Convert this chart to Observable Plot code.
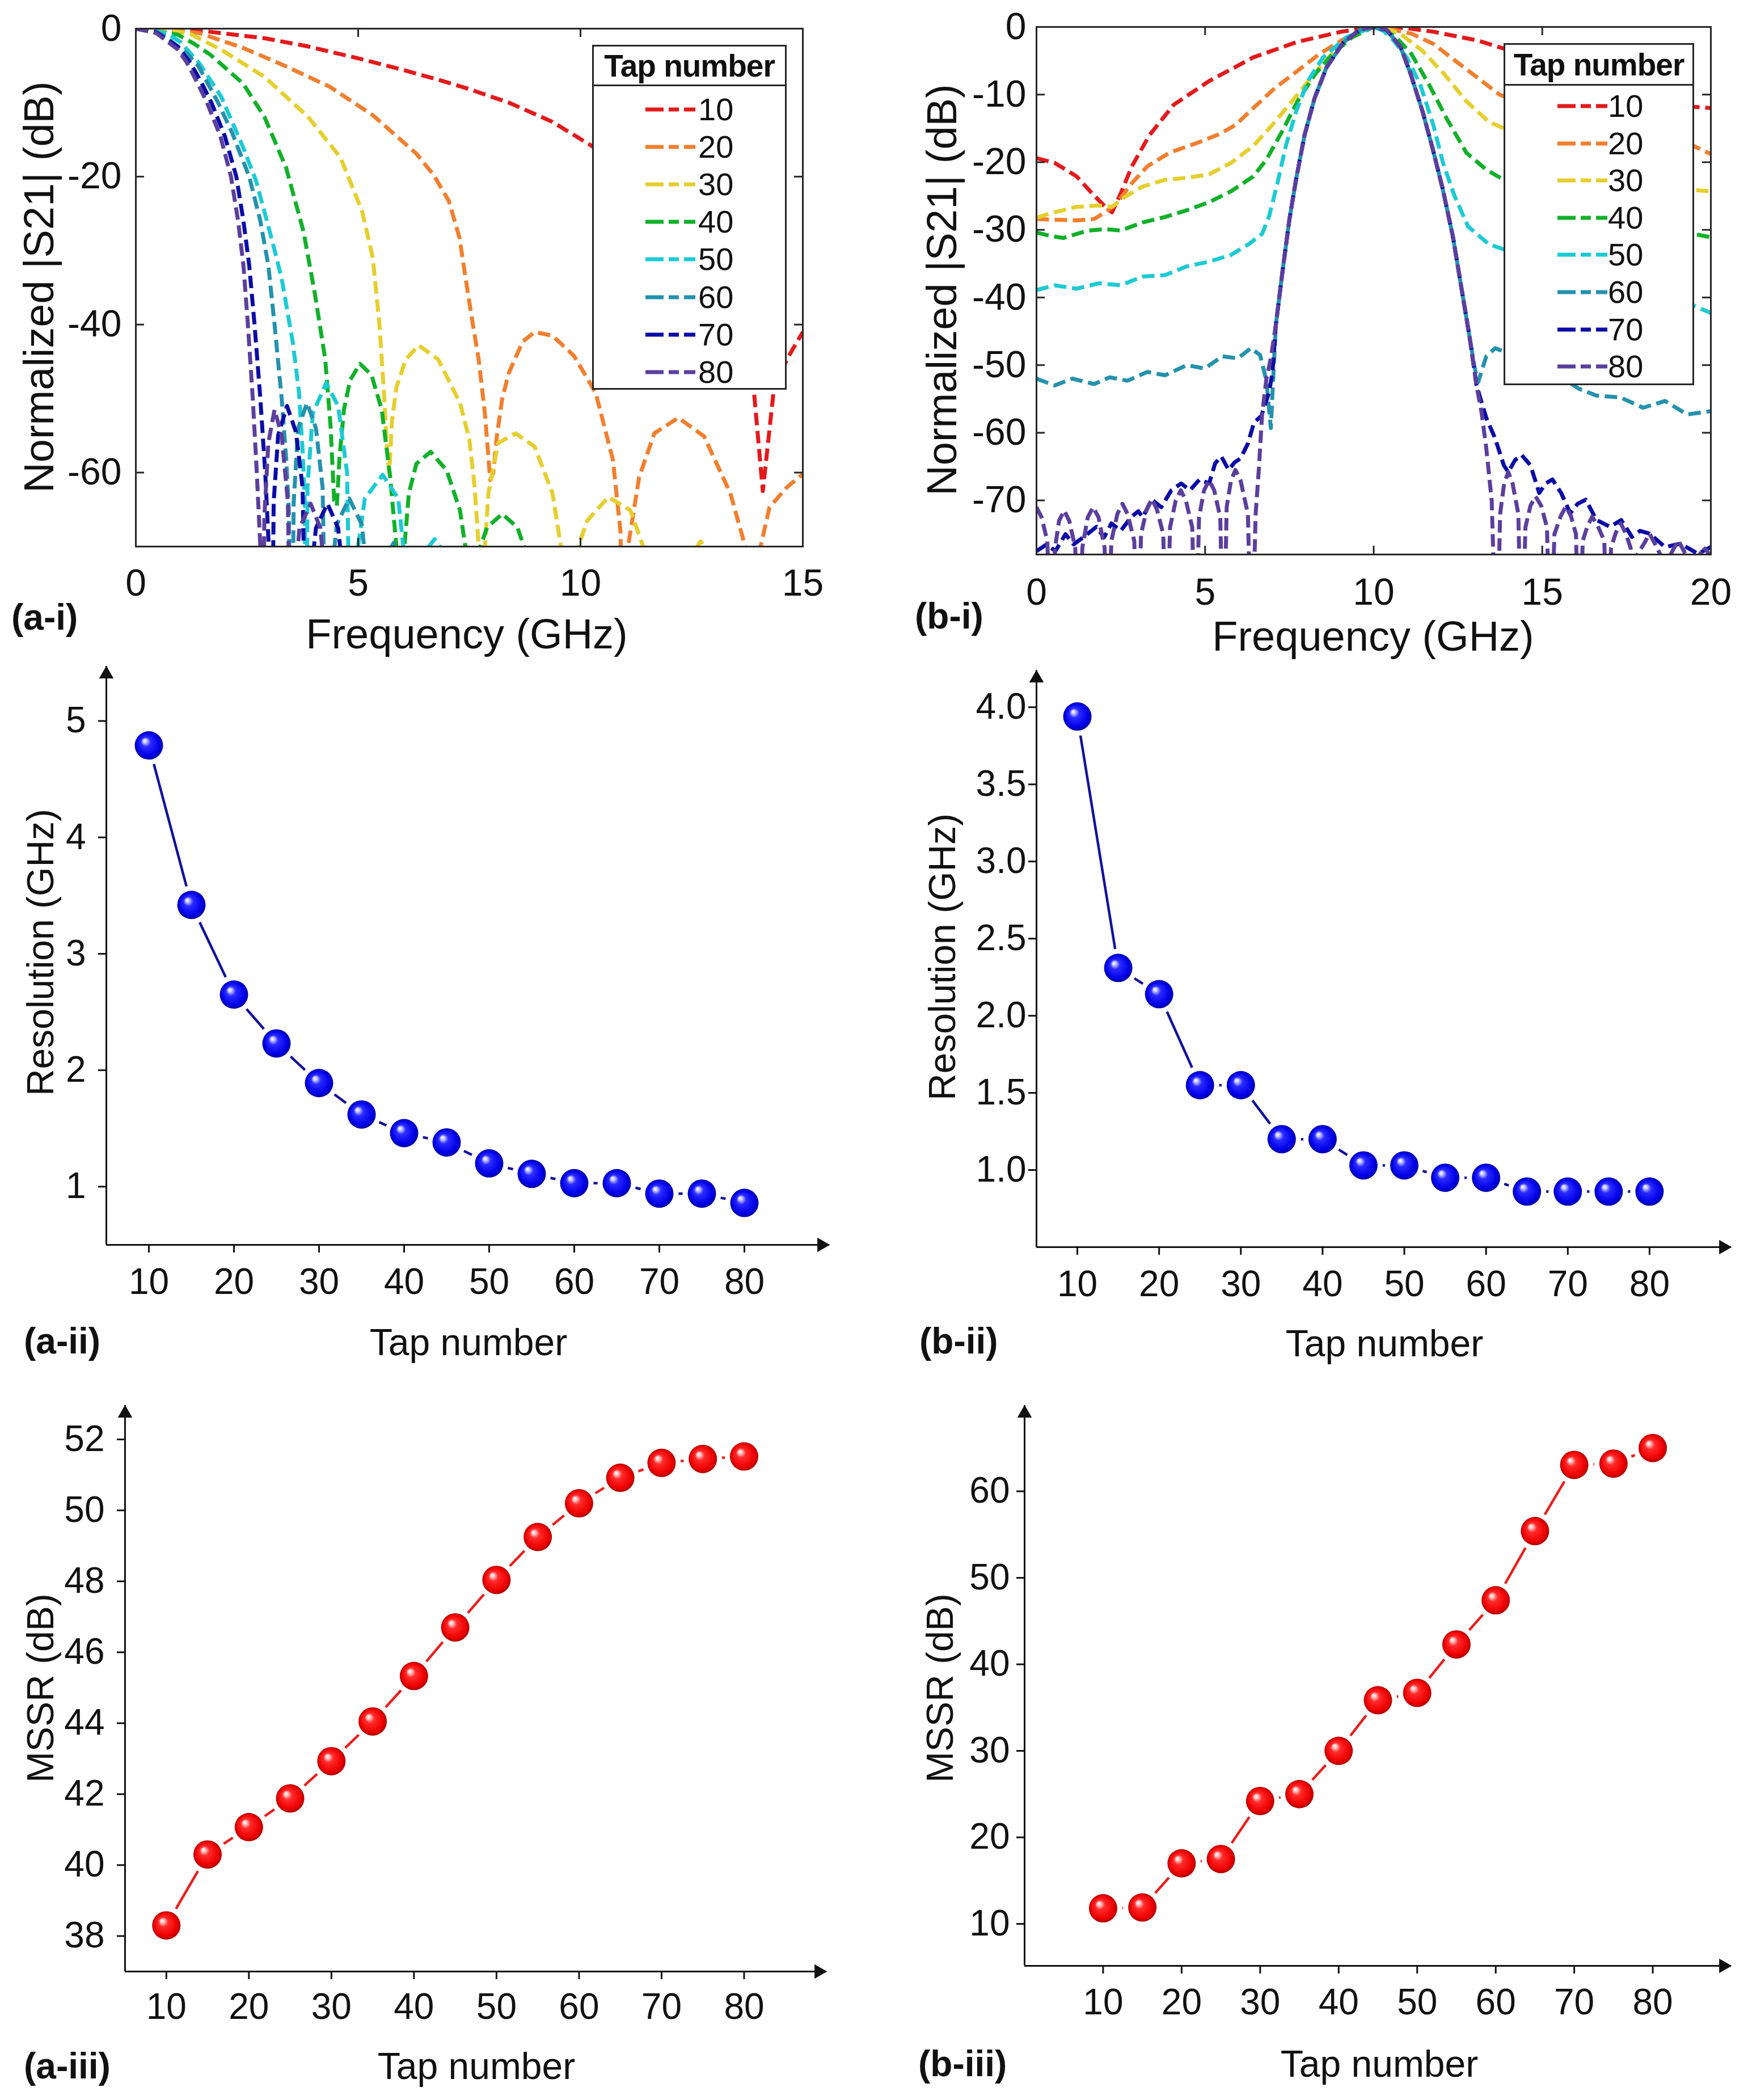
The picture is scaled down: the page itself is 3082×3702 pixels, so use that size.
<!DOCTYPE html>
<html><head><meta charset="utf-8">
<script src="https://cdn.jsdelivr.net/npm/d3@7"></script>
<script src="https://cdn.jsdelivr.net/npm/@observablehq/plot@0.6"></script>
<style>
body{margin:0;background:#fff;}
#page{position:relative;width:3082px;height:3702px;background:#fff;overflow:hidden;font-family:"Liberation Sans",Arial,Helvetica,sans-serif;color:#111;}
.ttl{position:absolute;white-space:nowrap;transform:translate(-50%,-50%);line-height:1;}
.vttl{position:absolute;white-space:nowrap;transform:translate(-50%,-50%) rotate(-90deg);line-height:1;}
.tag{position:absolute;white-space:nowrap;font-weight:bold;transform:translateY(-50%);line-height:1;}
.legend{position:absolute;background:#fff;border:3px solid #262626;box-sizing:border-box;}
.legtitle{position:absolute;left:0;top:0;width:100%;box-sizing:border-box;border-bottom:3px solid #262626;font-weight:bold;font-size:55px;display:flex;align-items:center;justify-content:center;letter-spacing:-1px;}
.leglab{position:absolute;font-size:56px;line-height:1;transform:translateY(-50%);}
</style></head>
<body>
<svg width="0" height="0" style="position:absolute">
<defs>
<radialGradient id="ballBlue" cx="0.5" cy="0.5" r="0.5" fx="0.34" fy="0.32">
<stop offset="0" stop-color="#ffffff"/><stop offset="0.13" stop-color="#c9c9ff"/><stop offset="0.34" stop-color="#2b2bff"/><stop offset="0.8" stop-color="#0000e8"/><stop offset="1" stop-color="#0000a6"/>
</radialGradient>
<radialGradient id="ballRed" cx="0.5" cy="0.5" r="0.5" fx="0.34" fy="0.32">
<stop offset="0" stop-color="#ffffff"/><stop offset="0.13" stop-color="#ffc9c9"/><stop offset="0.34" stop-color="#ff2b2b"/><stop offset="0.8" stop-color="#ee0000"/><stop offset="1" stop-color="#b00000"/>
</radialGradient>
</defs>
</svg>
<div id="page"></div>
<script>
// ---------- categories / colors ----------
const taps = [10, 20, 30, 40, 50, 60, 70, 80];
const tapColors = ["#e31a1c", "#f07f2f", "#e5cf2f", "#12b02a", "#1dcad3", "#2591ad", "#0b0ba6", "#5b3f9d"];

// ---------- (a-i) curves: [frequency GHz, normalized |S21| dB] ----------
const ai_tap10 = [[0,0],[1.5,-0.3],[2.9,-1.3],[3.87,-2.4],[4.99,-4.0],[5.9,-5.4],[6.8,-6.9],[7.41,-8.0],[8.39,-10.0],[9.37,-12.6],[10.24,-15.8],[11,-19.5],[12,-25.5],[13,-34],[13.6,-42],[13.9,-49],[14.1,-62.5],[14.34,-49.2],[14.64,-44.7],[15,-41]];
const ai_tap20 = [[0,0],[0.7,-0.15],[1.43,-0.6],[2.41,-2.6],[3.38,-5.1],[4.36,-7.85],[5.33,-11.7],[6.31,-16.9],[6.7,-19.8],[7.04,-23.3],[7.28,-28.3],[7.41,-33.5],[7.58,-40],[7.71,-44.7],[7.85,-52],[7.97,-61],[8.04,-60],[8.12,-55],[8.24,-50],[8.39,-46.5],[8.7,-42.3],[8.97,-41],[9.37,-41.5],[9.85,-44.2],[10.34,-49.2],[10.73,-58.3],[10.9,-68],[10.98,-95],[11.07,-70],[11.32,-60.6],[11.66,-54.7],[12.2,-52.6],[12.78,-55.1],[13.37,-62.8],[13.71,-70.1],[13.85,-95],[14.05,-70],[14.25,-64.7],[14.64,-62],[15,-60.2]];
const ai_tap30 = [[0,0],[0.6,-0.2],[1.19,-0.6],[1.92,-2.85],[2.89,-6.5],[3.87,-11.9],[4.6,-17.4],[5.09,-24.7],[5.33,-31],[5.48,-40.1],[5.58,-49.2],[5.65,-57],[5.7,-60],[5.76,-53],[5.86,-48.5],[6.07,-44.7],[6.36,-42.8],[6.8,-44.7],[7.29,-50.6],[7.5,-55.5],[7.62,-62],[7.71,-70],[7.78,-95],[7.85,-70],[7.93,-62.8],[8.15,-56],[8.54,-54.7],[8.97,-56.5],[9.37,-62.8],[9.56,-70],[9.75,-95],[9.95,-70],[10.15,-66.5],[10.63,-63.3],[11.12,-65.1],[11.41,-70],[11.6,-95],[12.4,-72],[12.7,-69.3],[13.0,-72],[13.3,-95]];
const ai_tap40 = [[0,0],[0.94,-0.8],[1.3,-2],[1.67,-3.5],[2.05,-5.5],[2.41,-7.4],[2.89,-11.9],[3.38,-18.8],[3.77,-27.4],[4.02,-35.6],[4.26,-44.7],[4.38,-53.8],[4.46,-63.8],[4.52,-64.5],[4.58,-58],[4.68,-51.5],[4.82,-47.5],[5.04,-45.3],[5.3,-46.8],[5.53,-51.5],[5.72,-60.6],[5.86,-70],[5.95,-95],[6.04,-70],[6.14,-62.8],[6.31,-58.8],[6.63,-57.2],[6.99,-59.7],[7.29,-65.1],[7.41,-70],[7.58,-95],[7.75,-70],[7.9,-67.4],[8.24,-65.6],[8.58,-67.4],[8.73,-70],[8.85,-95]];
const ai_tap50 = [[0,0],[0.7,-0.6],[1.0,-1.8],[1.43,-4.7],[1.92,-9.2],[2.41,-16],[2.7,-20.5],[2.89,-24.7],[3.08,-29],[3.28,-33.8],[3.53,-42.4],[3.67,-49.2],[3.75,-57],[3.8,-64],[3.83,-95],[3.86,-62],[3.98,-52],[4.28,-47.9],[4.55,-51],[4.75,-60],[4.85,-95],[4.95,-72],[5.15,-63.5],[5.55,-60.3],[5.9,-63.5],[6.05,-72],[6.15,-95],[6.4,-71.5],[6.72,-69],[7.0,-71.5],[7.3,-95]];
const ai_tap60 = [[0,0],[0.46,-0.4],[0.7,-1.2],[1.19,-3.6],[1.4,-5],[1.7,-8.3],[1.85,-10],[2.16,-14],[2.55,-20],[2.8,-26],[2.98,-32],[3.12,-40],[3.28,-50],[3.38,-58],[3.44,-65],[3.5,-95],[3.55,-64],[3.65,-54],[3.85,-50.6],[4.05,-54],[4.2,-62],[4.3,-95],[4.38,-75],[4.52,-67],[4.8,-63.5],[5.08,-67],[5.22,-75],[5.3,-95],[5.5,-72.5],[5.8,-69.5],[6.1,-72.5],[6.3,-95]];
const ai_tap70 = [[0,0],[0.46,-0.5],[0.94,-2.4],[1.21,-4.5],[1.45,-7],[1.7,-10],[2.0,-14.5],[2.26,-20],[2.42,-26],[2.55,-32],[2.67,-40],[2.8,-50],[2.91,-60],[2.99,-70],[3.05,-95],[3.1,-64],[3.2,-55],[3.4,-51],[3.6,-54.5],[3.75,-62],[3.85,-95],[3.92,-75],[4.05,-67.5],[4.31,-64.2],[4.55,-67.5],[4.68,-75],[4.75,-95],[4.95,-73],[5.22,-70.3],[5.45,-73],[5.7,-95]];
const ai_tap80 = [[0,0],[0.46,-0.6],[0.94,-2.8],[1.14,-4.5],[1.4,-7.5],[1.6,-10],[1.9,-14.5],[2.14,-20],[2.3,-26],[2.42,-32],[2.52,-40],[2.63,-50],[2.72,-60],[2.8,-70],[2.85,-95],[2.89,-66],[2.98,-56],[3.12,-51.5],[3.28,-55],[3.42,-64],[3.5,-95],[3.56,-76],[3.68,-67.5],[3.93,-64.2],[4.15,-67.5],[4.28,-76],[4.35,-95],[4.5,-73],[4.77,-70.5],[5.0,-73],[5.2,-95]];

// ---------- (b-i) curves ----------
const bi_tap10 = [[0,-19.4],[0.54,-20.1],[1.19,-22.1],[1.65,-24.6],[2.04,-26.6],[2.24,-27.4],[2.5,-24.6],[2.83,-20.6],[3.35,-16],[4.07,-11.5],[5.12,-8],[6.43,-4.5],[7.74,-2.2],[9.04,-0.7],[10,0],[11.0,-0.2],[11.77,-0.7],[13.08,-2],[13.86,-3.2],[15,-5.5],[16.5,-8.5],[18,-10.5],[19.49,-11.8],[20,-12]];
const bi_tap20 = [[0,-28.4],[0.54,-28.5],[1.19,-28.6],[1.71,-28.4],[2.04,-27.4],[2.37,-26.1],[2.83,-23.1],[3.29,-20.6],[3.94,-18.6],[4.79,-17.1],[5.45,-15.8],[5.9,-14.5],[6.43,-12],[7.08,-9],[7.74,-6.5],[8.39,-4],[9.04,-2],[9.6,-0.5],[10,0],[10.5,-0.3],[11.12,-1],[11.77,-2.5],[12.42,-5],[13.08,-7.5],[13.73,-10],[15,-12.5],[16.5,-14.5],[18,-16],[19.49,-17.6],[20,-18.8]];
const bi_tap30 = [[0,-28.2],[0.54,-27.4],[1.19,-26.6],[1.85,-26.4],[2.24,-26.6],[2.63,-25.1],[3.15,-23.6],[3.81,-22.6],[4.46,-22.3],[5.12,-21.8],[5.77,-20.1],[6.43,-17.6],[7.08,-14],[7.74,-10],[8.39,-6],[9.04,-2.5],[9.6,-0.6],[10,0],[10.4,-0.3],[10.79,-1],[11.44,-3.5],[12.1,-7],[12.75,-11],[13.41,-14],[13.86,-15],[15,-18.5],[16.5,-21.5],[18,-23.5],[19.49,-24.1],[20,-24.3]];
const bi_tap40 = [[0,-30.4],[0.41,-30.9],[0.8,-31.2],[1.52,-30.1],[2.04,-29.9],[2.5,-30.1],[3.15,-28.9],[3.81,-28.1],[4.46,-27.1],[5.12,-25.9],[5.77,-24.3],[6.43,-22.1],[6.82,-19.6],[7.28,-15.5],[7.74,-11],[8.26,-7],[8.78,-4],[9.37,-1.5],[10,0],[10.3,-0.4],[10.66,-1.5],[11.12,-4],[11.64,-8.5],[12.16,-13.5],[12.75,-18.6],[13.34,-21.1],[13.86,-22.6],[15,-25],[16.5,-27.5],[18,-29.5],[19.49,-30.6],[20,-31.1]];
const bi_tap50 = [[0,-38.9],[0.54,-38.2],[1.19,-38.7],[1.85,-37.9],[2.5,-38.2],[3.15,-36.9],[3.81,-36.7],[4.46,-35.4],[5.12,-34.7],[5.77,-33.7],[6.3,-32.1],[6.69,-30.6],[6.9,-28],[7.15,-23],[7.4,-17.5],[7.7,-12.5],[8.05,-8],[8.5,-4.5],[9.2,-1.5],[10,0],[10.3,-0.6],[10.59,-2],[10.98,-4.5],[11.38,-8.5],[11.77,-14.5],[12.05,-20],[12.4,-25],[12.8,-29.5],[13.41,-32.1],[13.86,-32.9],[15,-34.5],[16.5,-37],[18,-39.5],[19.49,-41.2],[20,-42.3]];
const bi_tap60 = [[0,-52],[0.54,-53],[1.06,-52],[1.71,-52.8],[2.17,-51.8],[2.7,-52.3],[3.29,-51],[3.81,-51.5],[4.46,-50],[4.99,-50.5],[5.51,-48.7],[5.97,-49],[6.36,-47.5],[6.63,-48.5],[6.82,-52.3],[6.95,-59.3],[7.02,-52],[7.1,-44],[7.3,-36],[7.5,-28.5],[7.7,-22.5],[7.95,-16],[8.25,-10.5],[8.6,-6],[9.1,-2.3],[9.6,-0.4],[10,0],[10.4,-0.5],[10.8,-3],[11.1,-7],[11.45,-12.5],[11.75,-18],[12.05,-24],[12.35,-31],[12.6,-38.5],[12.85,-46],[13.0,-50.5],[13.1,-52.5],[13.34,-48.7],[13.6,-47.5],[13.86,-48],[14.5,-48.5],[15.3,-51],[16.09,-53.5],[16.6,-54.5],[17.33,-54.8],[17.99,-56.3],[18.64,-55.3],[19.3,-57.3],[20,-56.8]];
const bi_tap70 = [[0,-77.5],[0.3,-76.5],[0.56,-77.5],[0.86,-75],[1.1,-76.5],[1.43,-75.3],[1.78,-73.9],[2.0,-75.5],[2.22,-73.4],[2.5,-74.5],[2.8,-72.5],[3.02,-71.6],[3.15,-72.5],[3.42,-69.9],[3.7,-71],[4.0,-68.5],[4.29,-67.5],[4.55,-68.5],[4.84,-66.9],[5.12,-67.5],[5.3,-64.5],[5.48,-63.5],[5.7,-65.5],[5.87,-64.4],[6.05,-63.8],[6.27,-61.6],[6.45,-58.5],[6.67,-57.5],[6.9,-54],[7.0,-51],[7.1,-44],[7.3,-36],[7.5,-28.5],[7.7,-22.5],[7.95,-16],[8.25,-10.5],[8.6,-6],[9.1,-2.3],[9.6,-0.4],[10,0],[10.4,-0.5],[10.8,-3],[11.1,-7],[11.45,-12.5],[11.75,-18],[12.05,-24],[12.35,-31],[12.6,-38.5],[12.85,-46],[13.05,-53],[13.34,-57.8],[13.6,-60.8],[13.86,-64.8],[13.99,-65.8],[14.2,-64],[14.39,-63.3],[14.65,-64.8],[14.91,-68.9],[15.1,-67.5],[15.3,-66.9],[15.56,-68.9],[15.83,-71.9],[16.05,-70.5],[16.29,-69.9],[16.61,-72.9],[17.01,-73.9],[17.34,-72.9],[17.66,-75.4],[17.9,-74.5],[18.18,-74.9],[18.64,-76.9],[19.1,-76.4],[19.62,-77.9],[20,-76.9]];
const bi_tap80 = [[0,-71],[0.15,-72.5],[0.32,-76],[0.45,-95],[0.55,-77],[0.67,-73],[0.82,-71.5],[0.97,-73],[1.15,-77],[1.25,-95],[1.36,-77],[1.52,-72.5],[1.68,-71],[1.84,-72.5],[2.02,-77],[2.12,-95],[2.22,-76],[2.4,-72],[2.55,-70.5],[2.7,-72],[2.9,-76],[3.0,-95],[3.1,-75],[3.27,-71.3],[3.42,-69.8],[3.57,-71.3],[3.76,-75],[3.86,-95],[3.96,-74],[4.13,-70],[4.28,-68.5],[4.43,-70],[4.62,-74],[4.72,-95],[4.82,-72.5],[4.97,-68.5],[5.12,-67],[5.27,-68.5],[5.45,-72.5],[5.55,-95],[5.64,-71],[5.77,-67],[5.9,-65.5],[6.05,-67],[6.27,-72],[6.38,-95],[6.5,-72],[6.6,-65],[6.69,-57.3],[6.82,-52],[6.95,-49],[7.1,-44],[7.3,-36],[7.5,-28.5],[7.7,-22.5],[7.95,-16],[8.25,-10.5],[8.6,-6],[9.1,-2.3],[9.6,-0.4],[10,0],[10.4,-0.5],[10.8,-3],[11.1,-7],[11.45,-12.5],[11.75,-18],[12.05,-24],[12.35,-31],[12.6,-38.5],[12.85,-46],[13.05,-53],[13.2,-57],[13.34,-62.3],[13.5,-70],[13.65,-95],[13.75,-72],[13.87,-67.5],[13.99,-65.8],[14.12,-67.5],[14.29,-72],[14.39,-95],[14.5,-74],[14.65,-70.8],[14.8,-69.4],[14.97,-70.8],[15.14,-74],[15.24,-95],[15.36,-75],[15.55,-72.3],[15.7,-70.9],[15.85,-72.3],[16.0,-75],[16.09,-95],[16.2,-76],[16.34,-73.8],[16.48,-72.4],[16.65,-73.8],[16.84,-76],[16.94,-95],[17.04,-77],[17.18,-74.8],[17.33,-73.4],[17.47,-74.8],[17.62,-77],[17.72,-95],[17.82,-78],[18.03,-76.3],[18.18,-74.9],[18.33,-76.3],[18.5,-78],[18.58,-95],[18.7,-79],[18.88,-77.3],[19.03,-75.9],[19.18,-77.3],[19.35,-79],[19.43,-95],[19.52,-80],[19.65,-78.3],[19.77,-76.9],[19.9,-77.6],[20,-78.5]];

// ---------- (ii)/(iii) series ----------
const tapNumbers = [10, 15, 20, 25, 30, 35, 40, 45, 50, 55, 60, 65, 70, 75, 80];
const resolutionA = [4.79, 3.42, 2.65, 2.23, 1.89, 1.62, 1.46, 1.38, 1.20, 1.11, 1.03, 1.03, 0.94, 0.94, 0.86];
const resolutionB = [3.94, 2.31, 2.14, 1.55, 1.55, 1.20, 1.20, 1.03, 1.03, 0.95, 0.95, 0.86, 0.86, 0.86, 0.86];
const mssrA = [38.3, 40.3, 41.07, 41.88, 42.93, 44.05, 45.33, 46.7, 48.04, 49.25, 50.2, 50.92, 51.34, 51.45, 51.52];
const mssrB = [11.8, 11.9, 17.0, 17.5, 24.2, 25.0, 30.0, 35.85, 36.7, 42.3, 47.4, 55.4, 63.05, 63.2, 65.0];

// ---------- tick labels ----------
const aiXTicks = [0, 5, 10, 15];
const aiYTicks = [0, -20, -40, -60];
const biXTicks = [0, 5, 10, 15, 20];
const biYTicks = [0, -10, -20, -30, -40, -50, -60, -70];
const tapTicks = [10, 20, 30, 40, 50, 60, 70, 80];
const resATicks = [1, 2, 3, 4, 5];
const resBTicks = [1.0, 1.5, 2.0, 2.5, 3.0, 3.5, 4.0];
const mssrATicks = [38, 40, 42, 44, 46, 48, 50, 52];
const mssrBTicks = [10, 20, 30, 40, 50, 60];

// ---------- helpers ----------
const FONT = '"Liberation Sans", Arial, Helvetica, sans-serif';
const AX = "#262626";
const page = document.getElementById("page");

function place(el, left, top, w, h) {
  const d = document.createElement("div");
  d.style.cssText = `position:absolute;left:${left}px;top:${top}px;width:${w}px;height:${h}px;`;
  d.appendChild(el);
  page.appendChild(d);
}
function addText(str, cls, x, y, size) {
  const d = document.createElement("div");
  d.className = cls;
  d.textContent = str;
  d.style.left = x + "px";
  d.style.top = y + "px";
  d.style.fontSize = size + "px";
  page.appendChild(d);
}
function rowsOf(curves) {
  return curves.flatMap((c, i) => c.map(([f, db]) => ({tap: taps[i], f, db})));
}

function freqPanel(o) {
  const fw = o.width - o.mL - o.mR, fh = o.height - o.mT - o.mB, tk = 15;
  const tickStyle = {stroke: AX, strokeWidth: 3};
  return Plot.plot({
    width: o.width, height: o.height,
    marginLeft: o.mL, marginRight: o.mR, marginTop: o.mT, marginBottom: o.mB,
    x: {domain: o.xDomain, label: null},
    y: {domain: o.yDomain, label: null},
    color: {type: "ordinal", domain: taps, range: tapColors},
    style: {fontFamily: FONT, fontSize: "66px", color: "#111", background: "none", overflow: "visible", maxWidth: "none"},
    marks: [
      Plot.line(o.rows, {x: "f", y: "db", z: "tap", stroke: "tap", strokeWidth: 7, strokeDasharray: "22,10", strokeLinecap: "butt", strokeLinejoin: "round", clip: true}),
      Plot.tickY(o.yTicks, {y: d => d, insetRight: fw - tk, ...tickStyle}),
      Plot.tickY(o.yTicks, {y: d => d, insetLeft: fw - tk, ...tickStyle}),
      Plot.tickX(o.xTicks, {x: d => d, insetTop: fh - tk, ...tickStyle}),
      Plot.tickX(o.xTicks, {x: d => d, insetBottom: fh - tk, ...tickStyle}),
      Plot.frame({stroke: AX, strokeWidth: 3}),
      Plot.axisX({ticks: o.xTicks, tickSize: 0, tickPadding: o.xPad, label: null, fontSize: 66}),
      Plot.axisY({ticks: o.yTicks, tickSize: 0, tickPadding: o.yPad, label: null, fontSize: 66, tickFormat: d => String(d)})
    ]
  });
}

function tapPanel(o) {
  const rows = tapNumbers.map((t, i) => ({tap: t, v: o.values[i]}));
  const [x0, x1] = o.xDomain, [y0, y1] = o.yDomain;
  return Plot.plot({
    width: o.width, height: o.height,
    marginLeft: o.mL, marginRight: o.mR, marginTop: o.mT, marginBottom: o.mB,
    x: {domain: o.xDomain, label: null},
    y: {domain: o.yDomain, label: null},
    style: {fontFamily: FONT, fontSize: "64px", color: "#111", background: "none", overflow: "visible", maxWidth: "none"},
    marks: [
      Plot.ruleX([x0], {stroke: "#111", strokeWidth: 3}),
      Plot.ruleY([y0], {stroke: "#111", strokeWidth: 3}),
      Plot.dot([{x: x0, y: y1}], {x: "x", y: "y", symbol: "triangle", r: 9.5, fill: "#111", dy: 14}),
      Plot.dot([{x: x1, y: y0}], {x: "x", y: "y", symbol: "triangle", r: 9.5, fill: "#111", rotate: 90, dx: -14}),
      Plot.axisX({ticks: tapTicks, tickSize: 14, tickPadding: o.xPad, strokeWidth: 3, label: null, fontSize: 64}),
      Plot.axisY({ticks: o.yTicks, tickSize: 14, tickPadding: o.yPad, strokeWidth: 3, label: null, fontSize: 64, tickFormat: o.fmt}),
      Plot.line(rows, {x: "tap", y: "v", stroke: o.lineColor, strokeWidth: 4.5}),
      Plot.dot(rows, {x: "tap", y: "v", r: 34, fill: "white"}),
      Plot.dot(rows, {x: "tap", y: "v", r: 25, fill: o.ball})
    ]
  });
}

function legendBox(o) {
  const d = document.createElement("div");
  d.className = "legend";
  d.style.cssText += `left:${o.left}px;top:${o.top}px;width:${o.w}px;height:${o.h}px;`;
  const t = document.createElement("div");
  t.className = "legtitle";
  t.style.height = o.titleH + "px";
  t.textContent = "Tap number";
  d.appendChild(t);
  taps.forEach((tap, i) => {
    const cy = o.row0 + i * o.step;
    const ns = "http://www.w3.org/2000/svg";
    const s = document.createElementNS(ns, "svg");
    s.setAttribute("width", 88); s.setAttribute("height", 12);
    s.style.cssText = `position:absolute;left:${o.sampleLeft}px;top:${cy - 6}px;`;
    const ln = document.createElementNS(ns, "line");
    ln.setAttribute("x1", 0); ln.setAttribute("x2", 88); ln.setAttribute("y1", 6); ln.setAttribute("y2", 6);
    ln.setAttribute("stroke", tapColors[i]); ln.setAttribute("stroke-width", 7);
    ln.setAttribute("stroke-dasharray", "32 9 18 9 20");
    s.appendChild(ln);
    d.appendChild(s);
    const lab = document.createElement("div");
    lab.className = "leglab";
    lab.textContent = String(tap);
    lab.style.left = o.labelLeft + "px";
    lab.style.top = cy + "px";
    d.appendChild(lab);
  });
  page.appendChild(d);
}

// ---------- (a-i) ----------
place(freqPanel({width: 1450, height: 1160, mL: 239, mR: 35, mT: 50, mB: 197,
  xDomain: [0, 15], yDomain: [-70, 0], xTicks: aiXTicks, yTicks: aiYTicks,
  rows: rowsOf([ai_tap10, ai_tap20, ai_tap30, ai_tap40, ai_tap50, ai_tap60, ai_tap70, ai_tap80]),
  xPad: 40, yPad: 25}), 0, 0, 1450, 1160);
legendBox({left: 1044, top: 79, w: 343, h: 608, titleH: 70, row0: 111, step: 66.1, sampleLeft: 91, labelLeft: 184});
addText("Frequency (GHz)", "ttl", 823, 1118, 74);
addText("Normalized |S21| (dB)", "vttl", 69, 506, 74);
addText("(a-i)", "tag", 20, 1088, 64);

// ---------- (b-i) ----------
place(freqPanel({width: 1480, height: 1160, mL: 245, mR: 46, mT: 47, mB: 183,
  xDomain: [0, 20], yDomain: [-78, 0], xTicks: biXTicks, yTicks: biYTicks,
  rows: rowsOf([bi_tap10, bi_tap20, bi_tap30, bi_tap40, bi_tap50, bi_tap60, bi_tap70, bi_tap80]),
  xPad: 42, yPad: 18}), 1582, 0, 1480, 1160);
legendBox({left: 2651, top: 76, w: 336, h: 603, titleH: 72, row0: 108, step: 65.6, sampleLeft: 92, labelLeft: 181});
addText("Frequency (GHz)", "ttl", 2421, 1122, 74);
addText("Normalized |S21| (dB)", "vttl", 1661, 511, 74);
addText("(b-i)", "tag", 1613, 1086, 64);

// ---------- (a-ii) ----------
place(tapPanel({width: 1480, height: 1250, mL: 187, mR: 18, mT: 24, mB: 206,
  xDomain: [5, 90], yDomain: [0.5, 5.47], yTicks: resATicks, fmt: d => String(d),
  values: resolutionA, lineColor: "#12129a", ball: "url(#ballBlue)", xPad: 27, yPad: 22}), 0, 1150, 1480, 1250);
addText("Tap number", "ttl", 826, 2366, 66);
addText("Resolution (GHz)", "vttl", 71, 1679, 66);
addText("(a-ii)", "tag", 42, 2364, 64);

// ---------- (b-ii) ----------
place(tapPanel({width: 1490, height: 1250, mL: 245, mR: 20, mT: 31, mB: 202,
  xDomain: [5, 90], yDomain: [0.5, 4.24], yTicks: resBTicks, fmt: d => d.toFixed(1),
  values: resolutionB, lineColor: "#12129a", ball: "url(#ballBlue)", xPad: 27, yPad: 4}), 1582, 1150, 1490, 1250);
addText("Tap number", "ttl", 2441, 2368, 66);
addText("Resolution (GHz)", "vttl", 1661, 1687, 66);
addText("(b-ii)", "tag", 1621, 2364, 64);

// ---------- (a-iii) ----------
place(tapPanel({width: 1480, height: 1272, mL: 220, mR: 23, mT: 47, mB: 227,
  xDomain: [5, 90], yDomain: [37, 52.96], yTicks: mssrATicks, fmt: d => String(d),
  values: mssrA, lineColor: "#e8201e", ball: "url(#ballRed)", xPad: 24, yPad: 22}), 0, 2430, 1480, 1272);
addText("Tap number", "ttl", 840, 3642, 66);
addText("MSSR (dB)", "vttl", 71, 2976, 66);
addText("(a-iii)", "tag", 42, 3642, 64);

// ---------- (b-iii) ----------
place(tapPanel({width: 1490, height: 1272, mL: 224, mR: 20, mT: 47, mB: 237,
  xDomain: [0, 90], yDomain: [5.15, 69.93], yTicks: mssrBTicks, fmt: d => String(d),
  values: mssrB, lineColor: "#e8201e", ball: "url(#ballRed)", xPad: 26, yPad: 12}), 1582, 2430, 1490, 1272);
addText("Tap number", "ttl", 2432, 3638, 66);
addText("MSSR (dB)", "vttl", 1657, 2976, 66);
addText("(b-iii)", "tag", 1619, 3638, 64);
</script>
</body></html>
